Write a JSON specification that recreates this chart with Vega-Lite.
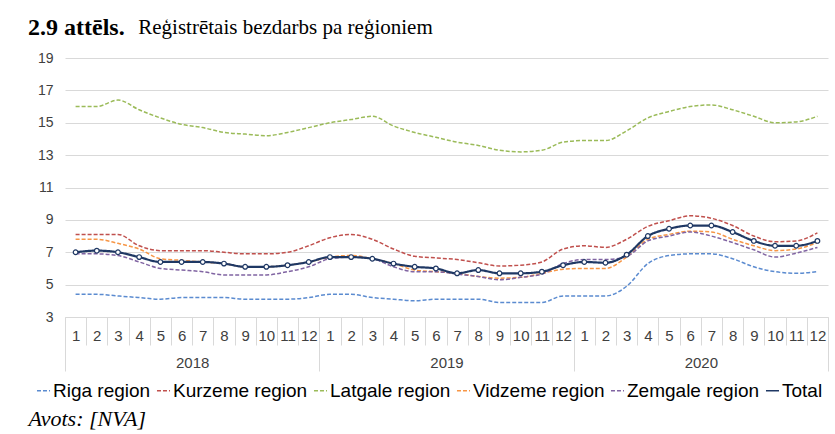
{
  "$schema": "https://vega.github.io/schema/vega-lite/v6.json",
  "width": 763,
  "height": 259,
  "autosize": {"type": "none"},
  "padding": {"left": 65, "top": 58, "right": 7, "bottom": 117},
  "background": "white",
  "title": {
    "text": "2.9 attēls.",
    "subtitle": "\u200b\u2003\u2003\u2003\u2003\u2003\u00a0Reģistrētais bezdarbs pa reģioniem",
    "anchor": "start",
    "frame": "group",
    "dx": -37,
    "offset": 11,
    "font": "Liberation Serif",
    "fontSize": 24,
    "fontWeight": "bold",
    "color": "black",
    "subtitleFont": "Liberation Serif",
    "subtitleFontSize": 21,
    "subtitleFontWeight": "normal",
    "subtitleColor": "black",
    "subtitlePadding": -23
  },
  "data": {
    "values": [
      {"i": 1, "Riga region": 4.4, "Kurzeme region": 8.1, "Latgale region": 16.0, "Vidzeme region": 7.8, "Zemgale region": 6.9, "Total": 7.0},
      {"i": 2, "Riga region": 4.4, "Kurzeme region": 8.1, "Latgale region": 16.0, "Vidzeme region": 7.8, "Zemgale region": 6.9, "Total": 7.1},
      {"i": 3, "Riga region": 4.3, "Kurzeme region": 8.1, "Latgale region": 16.4, "Vidzeme region": 7.55, "Zemgale region": 6.8, "Total": 7.0},
      {"i": 4, "Riga region": 4.2, "Kurzeme region": 7.4, "Latgale region": 15.8, "Vidzeme region": 7.2, "Zemgale region": 6.4, "Total": 6.7},
      {"i": 5, "Riga region": 4.1, "Kurzeme region": 7.1, "Latgale region": 15.3, "Vidzeme region": 6.6, "Zemgale region": 6.0, "Total": 6.4},
      {"i": 6, "Riga region": 4.2, "Kurzeme region": 7.1, "Latgale region": 14.9, "Vidzeme region": 6.5, "Zemgale region": 5.9, "Total": 6.4},
      {"i": 7, "Riga region": 4.2, "Kurzeme region": 7.1, "Latgale region": 14.7, "Vidzeme region": 6.4, "Zemgale region": 5.8, "Total": 6.4},
      {"i": 8, "Riga region": 4.2, "Kurzeme region": 7.0, "Latgale region": 14.4, "Vidzeme region": 6.3, "Zemgale region": 5.6, "Total": 6.3},
      {"i": 9, "Riga region": 4.1, "Kurzeme region": 6.9, "Latgale region": 14.3, "Vidzeme region": 6.1, "Zemgale region": 5.6, "Total": 6.1},
      {"i": 10, "Riga region": 4.1, "Kurzeme region": 6.9, "Latgale region": 14.2, "Vidzeme region": 6.1, "Zemgale region": 5.6, "Total": 6.1},
      {"i": 11, "Riga region": 4.1, "Kurzeme region": 7.0, "Latgale region": 14.4, "Vidzeme region": 6.2, "Zemgale region": 5.8, "Total": 6.2},
      {"i": 12, "Riga region": 4.2, "Kurzeme region": 7.4, "Latgale region": 14.7, "Vidzeme region": 6.4, "Zemgale region": 6.1, "Total": 6.4},
      {"i": 13, "Riga region": 4.4, "Kurzeme region": 7.9, "Latgale region": 15.0, "Vidzeme region": 6.7, "Zemgale region": 6.6, "Total": 6.7},
      {"i": 14, "Riga region": 4.4, "Kurzeme region": 8.1, "Latgale region": 15.2, "Vidzeme region": 6.8, "Zemgale region": 6.7, "Total": 6.7},
      {"i": 15, "Riga region": 4.2, "Kurzeme region": 7.8, "Latgale region": 15.4, "Vidzeme region": 6.6, "Zemgale region": 6.6, "Total": 6.6},
      {"i": 16, "Riga region": 4.1, "Kurzeme region": 7.2, "Latgale region": 14.8, "Vidzeme region": 6.3, "Zemgale region": 6.1, "Total": 6.3},
      {"i": 17, "Riga region": 4.0, "Kurzeme region": 6.75, "Latgale region": 14.4, "Vidzeme region": 5.9, "Zemgale region": 5.8, "Total": 6.1},
      {"i": 18, "Riga region": 4.1, "Kurzeme region": 6.65, "Latgale region": 14.1, "Vidzeme region": 5.8, "Zemgale region": 5.8, "Total": 6.0},
      {"i": 19, "Riga region": 4.1, "Kurzeme region": 6.55, "Latgale region": 13.8, "Vidzeme region": 5.7, "Zemgale region": 5.65, "Total": 5.7},
      {"i": 20, "Riga region": 4.1, "Kurzeme region": 6.35, "Latgale region": 13.6, "Vidzeme region": 5.5, "Zemgale region": 5.5, "Total": 5.9},
      {"i": 21, "Riga region": 3.9, "Kurzeme region": 6.15, "Latgale region": 13.3, "Vidzeme region": 5.4, "Zemgale region": 5.3, "Total": 5.7},
      {"i": 22, "Riga region": 3.9, "Kurzeme region": 6.2, "Latgale region": 13.2, "Vidzeme region": 5.45, "Zemgale region": 5.45, "Total": 5.7},
      {"i": 23, "Riga region": 3.9, "Kurzeme region": 6.4, "Latgale region": 13.3, "Vidzeme region": 5.7, "Zemgale region": 5.65, "Total": 5.8},
      {"i": 24, "Riga region": 4.3, "Kurzeme region": 7.2, "Latgale region": 13.8, "Vidzeme region": 5.95, "Zemgale region": 6.3, "Total": 6.2},
      {"i": 25, "Riga region": 4.3, "Kurzeme region": 7.4, "Latgale region": 13.9, "Vidzeme region": 6.0, "Zemgale region": 6.55, "Total": 6.4},
      {"i": 26, "Riga region": 4.3, "Kurzeme region": 7.3, "Latgale region": 13.9, "Vidzeme region": 6.0, "Zemgale region": 6.55, "Total": 6.35},
      {"i": 27, "Riga region": 4.9, "Kurzeme region": 7.8, "Latgale region": 14.5, "Vidzeme region": 6.7, "Zemgale region": 6.75, "Total": 6.85},
      {"i": 28, "Riga region": 6.3, "Kurzeme region": 8.6, "Latgale region": 15.3, "Vidzeme region": 7.8, "Zemgale region": 7.7, "Total": 8.0},
      {"i": 29, "Riga region": 6.8, "Kurzeme region": 8.95, "Latgale region": 15.7, "Vidzeme region": 8.1, "Zemgale region": 8.0, "Total": 8.45},
      {"i": 30, "Riga region": 6.9, "Kurzeme region": 9.25, "Latgale region": 16.0, "Vidzeme region": 8.3, "Zemgale region": 8.25, "Total": 8.65},
      {"i": 31, "Riga region": 6.9, "Kurzeme region": 9.1, "Latgale region": 16.1, "Vidzeme region": 8.25, "Zemgale region": 8.0, "Total": 8.65},
      {"i": 32, "Riga region": 6.6, "Kurzeme region": 8.65, "Latgale region": 15.8, "Vidzeme region": 7.8, "Zemgale region": 7.6, "Total": 8.25},
      {"i": 33, "Riga region": 6.1, "Kurzeme region": 8.0, "Latgale region": 15.4, "Vidzeme region": 7.4, "Zemgale region": 7.15, "Total": 7.7},
      {"i": 34, "Riga region": 5.8, "Kurzeme region": 7.65, "Latgale region": 15.0, "Vidzeme region": 7.1, "Zemgale region": 6.7, "Total": 7.4},
      {"i": 35, "Riga region": 5.7, "Kurzeme region": 7.7, "Latgale region": 15.05, "Vidzeme region": 7.2, "Zemgale region": 6.95, "Total": 7.4},
      {"i": 36, "Riga region": 5.8, "Kurzeme region": 8.2, "Latgale region": 15.4, "Vidzeme region": 7.6, "Zemgale region": 7.3, "Total": 7.7}
    ]
  },
  "transform": [
    {"fold": ["Riga region", "Kurzeme region", "Latgale region", "Vidzeme region", "Zemgale region", "Total"], "as": ["series", "value"]}
  ],
  "encoding": {
    "y": {
      "field": "value",
      "type": "quantitative",
      "scale": {"domain": [3, 19], "nice": false, "zero": false},
      "axis": {
        "title": null,
        "values": [3, 5, 7, 9, 11, 13, 15, 17, 19],
        "domain": false,
        "ticks": false,
        "grid": true,
        "gridColor": "#d9d9d9",
        "gridWidth": 1,
        "labelFont": "Liberation Sans",
        "labelFontSize": 14,
        "labelColor": "#404040",
        "labelPadding": 12
      }
    }
  },
  "layer": [
    {
      "transform": [{"filter": "datum.series !== 'Total'"}],
      "mark": {"type": "line", "interpolate": "monotone", "strokeWidth": 1.5},
      "encoding": {
        "x": {
          "field": "i",
          "type": "quantitative",
          "scale": {"domain": [0.5, 36.5], "nice": false, "zero": false},
          "axis": {
            "orient": "bottom",
            "title": null,
            "values": [0.5, 1.5, 2.5, 3.5, 4.5, 5.5, 6.5, 7.5, 8.5, 9.5, 10.5, 11.5, 12.5, 13.5, 14.5, 15.5, 16.5, 17.5, 18.5, 19.5, 20.5, 21.5, 22.5, 23.5, 24.5, 25.5, 26.5, 27.5, 28.5, 29.5, 30.5, 31.5, 32.5, 33.5, 34.5, 35.5, 36.5],
            "labelExpr": "datum.value < 36 ? '' + (floor(datum.value - 0.5) % 12 + 1) : ''",
            "labelOffset": 10.6,
            "labelAlign": "center",
            "labelBaseline": "middle",
            "labelPadding": -10,
            "labelFlush": false,
            "labelOverlap": false,
            "labelBound": false,
            "labelFont": "Liberation Sans",
            "labelFontSize": 15,
            "labelColor": "#404040",
            "domain": false,
            "grid": false,
            "ticks": true,
            "tickSize": 28,
            "tickColor": "#d9d9d9",
            "tickWidth": 1
          }
        },
        "color": {
          "field": "series",
          "type": "nominal",
          "scale": {
            "domain": ["Riga region", "Kurzeme region", "Latgale region", "Vidzeme region", "Zemgale region", "Total"],
            "range": ["#5b8bd0", "#c0504d", "#9bbb59", "#f79646", "#8064a2", "#1f3864"]
          },
          "legend": {"orient": "none", "legendX": -31, "legendY": 323, "title": null}
        },
        "strokeDash": {
          "field": "series",
          "type": "nominal",
          "scale": {
            "domain": ["Riga region", "Kurzeme region", "Latgale region", "Vidzeme region", "Zemgale region", "Total"],
            "range": [[4, 2], [4, 2], [4, 2], [4, 2], [4, 2], [1, 0]]
          },
          "legend": {"orient": "none", "legendX": -31, "legendY": 323, "title": null}
        }
      }
    },
    {
      "transform": [{"filter": "datum.series === 'Total'"}],
      "mark": {"type": "line", "interpolate": "monotone", "strokeWidth": 2.2},
      "encoding": {
        "x": {"field": "i", "type": "quantitative", "axis": null},
        "color": {"field": "series", "type": "nominal"},
        "strokeDash": {"field": "series", "type": "nominal"}
      }
    },
    {
      "transform": [{"filter": "datum.series === 'Total'"}],
      "mark": {"type": "point", "filled": true, "fill": "white", "stroke": "#1f3864", "strokeWidth": 1.2, "size": 22, "opacity": 1},
      "encoding": {
        "x": {
          "field": "i",
          "type": "quantitative",
          "axis": {
            "orient": "bottom",
            "values": [0.5, 12.5, 24.5, 36.5],
            "labelExpr": "datum.value < 36 ? '' + (2018 + floor(datum.value / 12)) : ''",
            "labelOffset": 127.2,
            "labelAlign": "center",
            "labelBaseline": "middle",
            "labelPadding": -9,
            "labelFlush": false,
            "labelOverlap": false,
            "labelBound": false,
            "labelFont": "Liberation Sans",
            "labelFontSize": 15,
            "labelColor": "#404040",
            "domain": false,
            "grid": false,
            "ticks": true,
            "tickSize": 54,
            "tickColor": "#d9d9d9",
            "tickWidth": 1,
            "title": "Avots: [NVA]",
            "titleFont": "Liberation Serif",
            "titleFontSize": 22,
            "titleFontStyle": "italic",
            "titleFontWeight": "normal",
            "titleColor": "black",
            "titleAnchor": "start",
            "titleAlign": "left",
            "titleBaseline": "alphabetic",
            "titleX": -37,
            "titleY": 108
          }
        }
      }
    }
  ],
  "resolve": {"axis": {"x": "independent"}},
  "config": {
    "view": {"stroke": null},
    "legend": {
      "direction": "horizontal",
      "symbolType": "stroke",
      "symbolSize": 170,
      "symbolStrokeWidth": 1.5,
      "labelFont": "Liberation Sans",
      "labelFontSize": 19,
      "labelColor": "black",
      "labelOffset": 0,
      "columnPadding": 2,
      "padding": 0
    }
  }
}
